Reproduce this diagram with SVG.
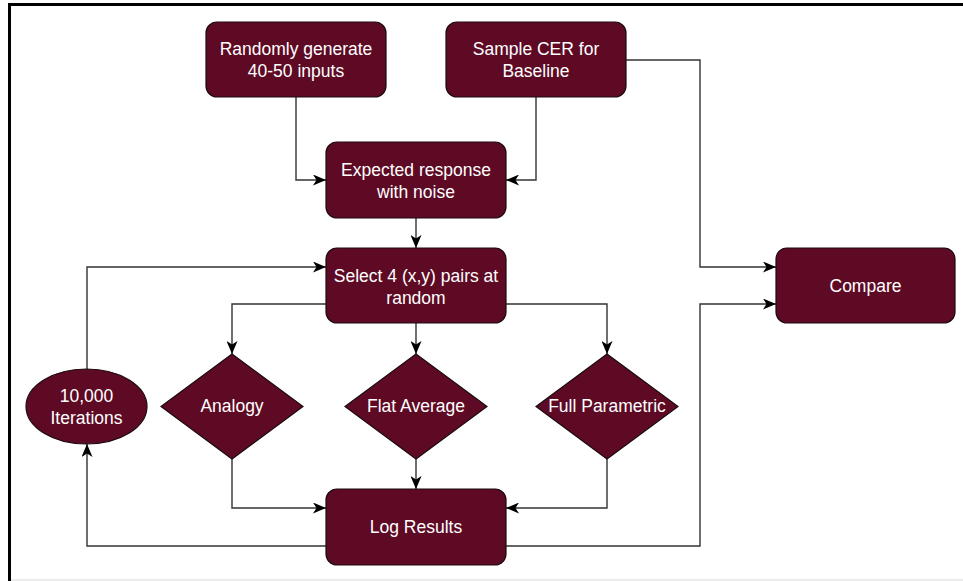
<svg xmlns="http://www.w3.org/2000/svg" width="963" height="581" viewBox="0 0 963 581">
<style>
.node{fill:#5e0a24;stroke:#1a0a0e;stroke-width:1.2}
.lbl{fill:#ffffff;font-family:"Liberation Sans",Arial,sans-serif;font-size:17.5px;text-anchor:middle}
.conn{fill:none;stroke:#333333;stroke-width:1.4}
</style>
<defs>
<marker id="arr" viewBox="0 0 13 11" refX="13" refY="5.5" markerWidth="13" markerHeight="11" markerUnits="userSpaceOnUse" orient="auto">
<path d="M0,0 L13,5.5 L0,11 L3.5,5.5 Z" fill="#000"/>
</marker>
</defs>
<rect x="0" y="0" width="963" height="581" fill="#ffffff"/>
<g id="frame">
<line x1="8" y1="4.5" x2="963" y2="4.5" stroke="#000" stroke-width="3"/>
<line x1="9.5" y1="3" x2="9.5" y2="581" stroke="#000" stroke-width="3"/>
<line x1="11" y1="580" x2="963" y2="580" stroke="#e6e6e6" stroke-width="1.5"/>
</g>
<g id="connectors">
<path class="conn" d="M296,97 V180 H326" marker-end="url(#arr)"/>
<path class="conn" d="M536,97 V180 H506" marker-end="url(#arr)"/>
<path class="conn" d="M416,218 V248" marker-end="url(#arr)"/>
<path class="conn" d="M626,60 H700 V267 H776" marker-end="url(#arr)"/>
<path class="conn" d="M326,304 H232 V354" marker-end="url(#arr)"/>
<path class="conn" d="M416,323 V354" marker-end="url(#arr)"/>
<path class="conn" d="M506,304 H607 V354" marker-end="url(#arr)"/>
<path class="conn" d="M232,459 V508 H326" marker-end="url(#arr)"/>
<path class="conn" d="M416,459 V489" marker-end="url(#arr)"/>
<path class="conn" d="M607,459 V508 H506" marker-end="url(#arr)"/>
<path class="conn" d="M326,546 H87 V444" marker-end="url(#arr)"/>
<path class="conn" d="M87,369 V267 H326" marker-end="url(#arr)"/>
<path class="conn" d="M506,546 H700 V304 H776" marker-end="url(#arr)"/>
</g>
<g id="random-inputs">
<rect class="node" x="206" y="22" width="180" height="75" rx="11"/>
<text class="lbl" x="296" y="55">Randomly generate</text>
<text class="lbl" x="296" y="77">40-50 inputs</text>
</g>
<g id="sample-cer">
<rect class="node" x="446" y="22" width="180" height="75" rx="11"/>
<text class="lbl" x="536" y="55">Sample CER for</text>
<text class="lbl" x="536" y="77">Baseline</text>
</g>
<g id="expected-response">
<rect class="node" x="326" y="142" width="180" height="76" rx="11"/>
<text class="lbl" x="416" y="176">Expected response</text>
<text class="lbl" x="416" y="198">with noise</text>
</g>
<g id="select-pairs">
<rect class="node" x="326" y="248" width="180" height="75" rx="11"/>
<text class="lbl" x="416" y="281.5">Select 4 (x,y) pairs at</text>
<text class="lbl" x="416" y="303.5">random</text>
</g>
<g id="compare">
<rect class="node" x="776" y="248" width="179" height="75" rx="11"/>
<text class="lbl" x="865.5" y="291.5">Compare</text>
</g>
<g id="iterations">
<ellipse class="node" cx="86.5" cy="406.5" rx="60.5" ry="37.5"/>
<text class="lbl" x="86.5" y="401.5">10,000</text>
<text class="lbl" x="86.5" y="423.5">Iterations</text>
</g>
<g id="analogy">
<polygon class="node" points="232,354 303,406.5 232,459 161,406.5"/>
<text class="lbl" x="232" y="412">Analogy</text>
</g>
<g id="flat-average">
<polygon class="node" points="416,354 487,406.5 416,459 345,406.5"/>
<text class="lbl" x="416" y="412">Flat Average</text>
</g>
<g id="full-parametric">
<polygon class="node" points="607,354 678,406.5 607,459 536,406.5"/>
<text class="lbl" x="607" y="412">Full Parametric</text>
</g>
<g id="log-results">
<rect class="node" x="326" y="489" width="180" height="76" rx="11"/>
<text class="lbl" x="416" y="533">Log Results</text>
</g>
</svg>
